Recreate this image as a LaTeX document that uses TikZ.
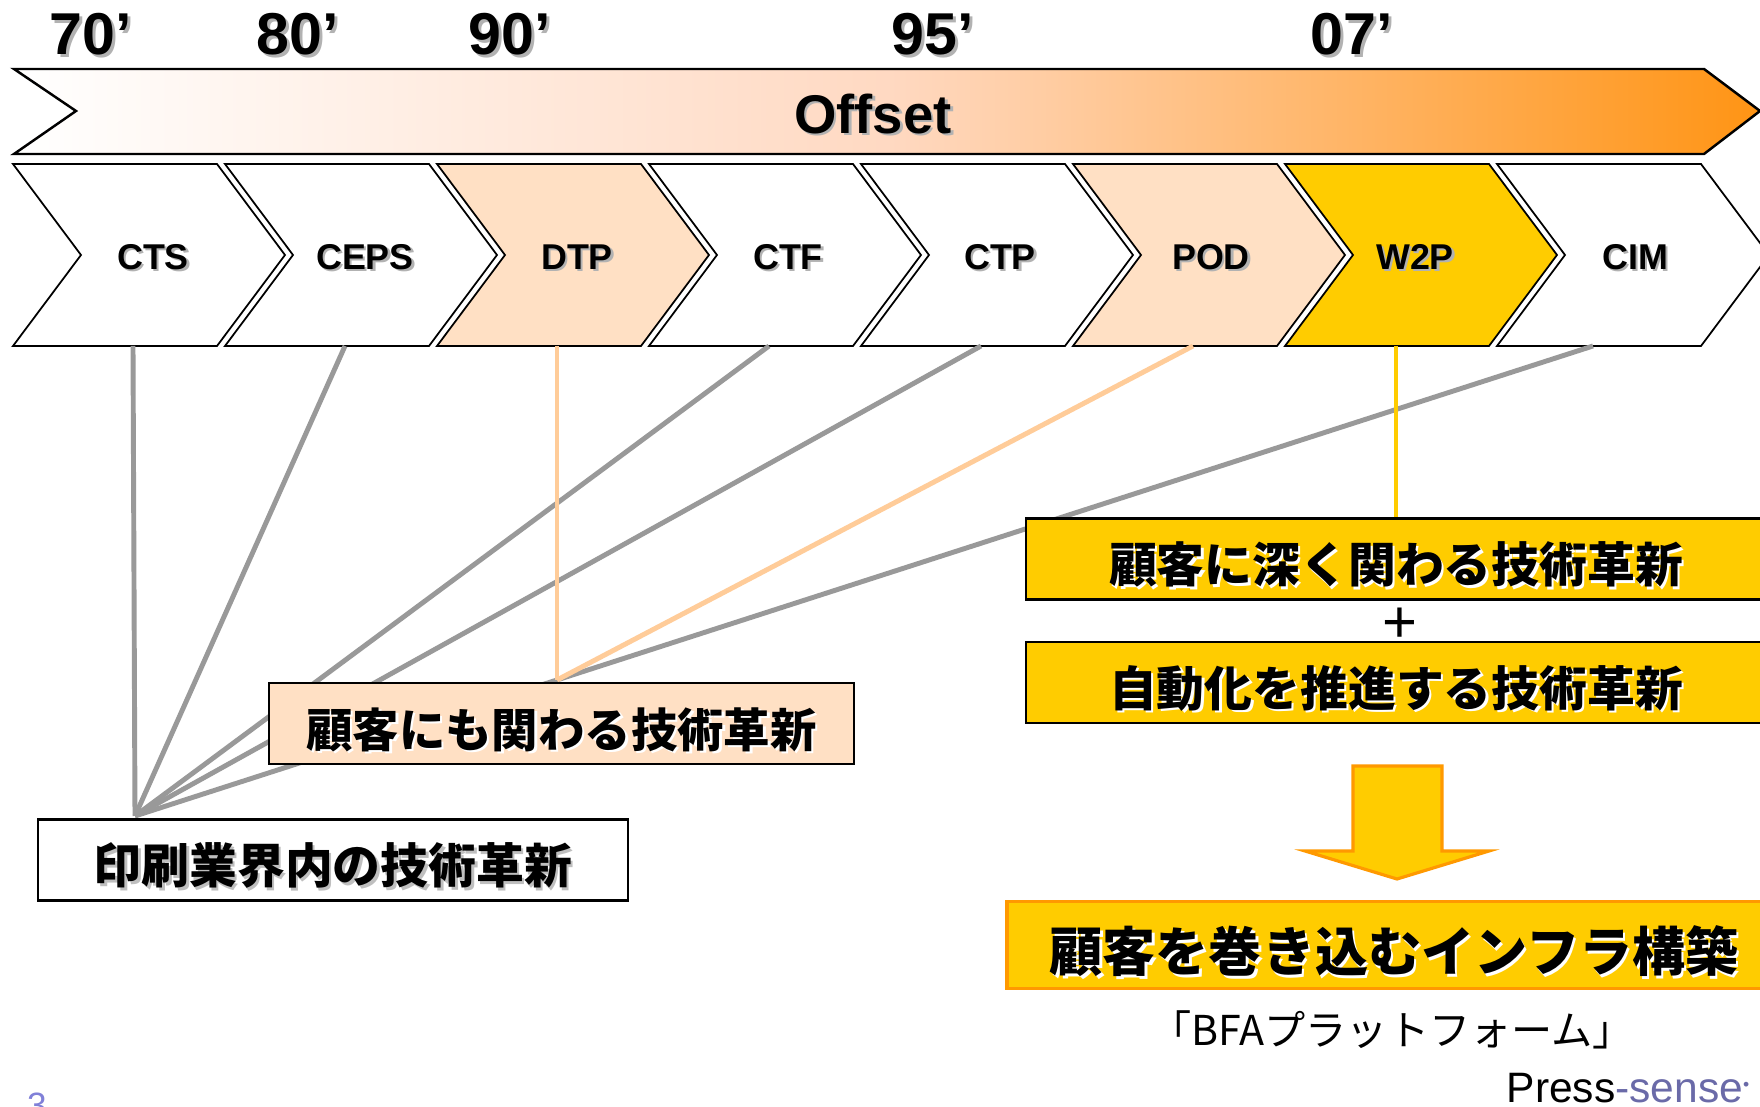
\documentclass[tikz,border=0pt]{standalone}
\usepackage{fontspec}
\setmainfont{Liberation Sans}
\newfontfamily\jpfont{Noto Sans CJK JP}
\definecolor{peach}{HTML}{FFE0C4}
\definecolor{gold}{HTML}{FFCC00}
\definecolor{amber}{HTML}{FF9414}
\definecolor{boxamber}{HTML}{FF9900}
\definecolor{midbar}{HTML}{FFD9C2}
\definecolor{linegray}{HTML}{999999}
\definecolor{lineorange}{HTML}{FFCC99}
\definecolor{sensecol}{HTML}{6A6AA8}
\definecolor{pagecol}{HTML}{8080D8}
\newcommand{\shtext}[2]{\rlap{\hspace{0.7pt}\raisebox{-0.7pt}{\textcolor{#1}{#2}}}#2}
\tikzset{
	yearlabel/.style={anchor=base,font=\fontsize{16.8pt}{18pt}\bfseries},
	chevron/.style={draw=black,line width=0.5pt,line join=miter},
	steplabel/.style={font=\fontsize{10.2pt}{12pt}\bfseries},
	fanline/.style={draw=linegray,line width=1.4pt},
	hueline/.style={line width=1.4pt},
	techbox/.style={draw=black,line width=0.6pt,minimum height=0.81cm,text height=13.6pt,text depth=0pt,font=\jpfont\fontsize{13.6pt}{16pt}\bfseries,inner sep=0pt},
}
\begin{document}
\begin{tikzpicture}[x=0.01cm,y=-0.01cm]
\clip (0,0) rectangle (1760,1107);
\fill[white] (0,0) rectangle (1760,1107);
\foreach \nm/\lb/\px in {y70/70/91,y80/80/298,y90/90/510,y95/95/933,y07/07/1352}
	\node[yearlabel] (\nm) at (\px,55) {\shtext{gray!60}{\lb’}};
\draw[line width=0.7pt,left color=white,right color=amber,middle color=midbar] (14,69) -- (1704,69) -- (1760,111) -- (1704,154) -- (14,154) -- (76,111) -- cycle;
\node[font=\fontsize{15.5pt}{18pt}\bfseries] (offset) at (873,115) {\shtext{gray!60}{Offset}};
% chevrons
\foreach \nm/\lb/\px/\tx/\bx/\col in {cts/CTS/13/153/133/white,ceps/CEPS/225/365/345/white,dtp/DTP/437/577/557/peach,ctf/CTF/649/788/769/white,ctp/CTP/861/1000/981/white,pod/POD/1073/1211/1193/peach,wtp/W2P/1285/1415/1396/gold,cim/CIM/1497/1635/1593/white}{
	\draw[chevron,fill=\col] (\px,164) -- ++(204,0) -- ++(68,91) -- ++(-68,91) -- ++(-204,0) -- ++(68,-91) -- cycle;
	\node[steplabel] (\nm) at (\tx,258) {\shtext{gray!60}{\lb}};
	\coordinate (\nm-b) at (\bx,346);
}
\coordinate (fan) at (135,816);
\coordinate (apex) at (557,680);
\foreach \nm in {cts,ceps,ctf,ctp,cim}
	\draw[fanline] (\nm-b) -- (fan);
\draw[hueline,lineorange] (dtp-b) -- (apex);
\draw[hueline,lineorange] (pod-b) -- (apex);
\draw[hueline,gold] (wtp-b) -- (1396,520);
% boxes
\node[techbox,fill=peach,minimum width=5.85cm,font=\jpfont\fontsize{13.2pt}{16pt}\bfseries] (custb) at (561.5,723.5) {\shtext{white}{顧客にも関わる技術革新}};
\node[techbox,fill=white,minimum width=5.9cm] (printb) at (333,860) {\shtext{gray!50}{印刷業界内の技術革新}};
\node[techbox,fill=gold,minimum width=7.4cm] (deepb) at (1396,559) {\shtext{white}{顧客に深く関わる技術革新}};
\node[font=\fontsize{17pt}{19pt}\selectfont] (plus) at (1400,625) {+};
\node[techbox,fill=gold,minimum width=7.4cm] (autob) at (1396,682.5) {\shtext{white}{自動化を推進する技術革新}};
\draw[draw=boxamber,fill=gold,line width=0.9pt,line join=miter] (1353,766) -- (1442,766) -- (1442,851) -- (1489,851) -- (1397,879) -- (1305,851) -- (1353,851) -- cycle;
\node[draw=boxamber,fill=gold,line width=1pt,minimum width=7.74cm,minimum height=0.87cm,text height=15.1pt,text depth=0pt,font=\jpfont\fontsize{15.1pt}{19pt}\bfseries,inner sep=0pt] (infra) at (1394,945) {\shtext{white}{顧客を巻き込むインフラ構築}};
\node[font=\jpfont\fontsize{11.7pt}{13pt}\selectfont] (bfa) at (1392,1030) {「BFAプラットフォーム」};
\node[anchor=base west,inner sep=0pt,font=\fontsize{12.1pt}{14pt}\selectfont] (press) at (1506,1103) {Press\textcolor{sensecol}{-sense\raisebox{0.3em}{\tiny •}}};
\node[anchor=base,inner sep=0pt,text=pagecol,font=\fontsize{10pt}{12pt}\selectfont] (pagenum) at (37,1118) {3};
\end{tikzpicture}
\end{document}
